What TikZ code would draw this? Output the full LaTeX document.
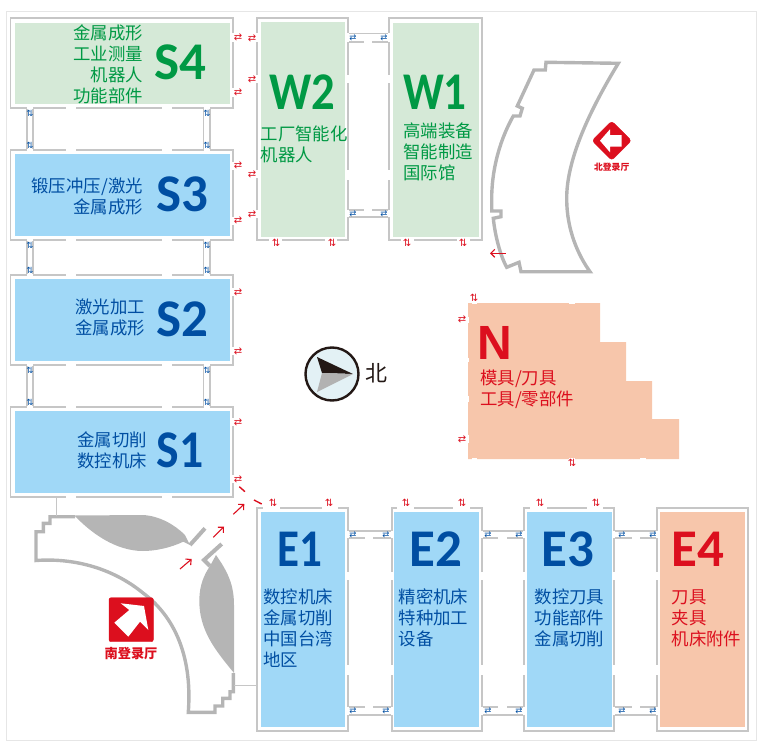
\documentclass[tikz,border=0pt]{standalone}
\usepackage{fontspec}
\usetikzlibrary{arrows.meta}
\setmainfont{Noto Sans CJK SC}
\newfontfamily\titlefont{Carlito}
\newfontfamily\nfont{Liberation Sans}
\newfontfamily\symfont{DejaVu Sans}
\definecolor{wallgray}{HTML}{C6C6C6}
\definecolor{lobbygray}{HTML}{B5B5B5}
\definecolor{framegray}{HTML}{E6E6E6}
\definecolor{hallgreen}{HTML}{D5E9D7}
\definecolor{hallblue}{HTML}{A0D8F7}
\definecolor{hallsalmon}{HTML}{F7C6AB}
\definecolor{textgreen}{HTML}{009944}
\definecolor{textblue}{HTML}{004EA2}
\definecolor{textred}{HTML}{DC0F1E}
\definecolor{compassblue}{HTML}{E3F1F5}
\definecolor{compassdark}{HTML}{231815}
\tikzstyle{wall}=[draw=wallgray, line width=1.2pt, inner sep=0pt, outer sep=0pt, fill=white]
\tikzstyle{room}=[inner sep=0pt, outer sep=0pt]
\tikzstyle{cwall}=[draw=wallgray, line width=1.2pt]
\tikzstyle{doorgap}=[draw=white, line width=2pt]
\tikzstyle{lobby}=[draw=lobbygray, line width=3.4pt, line join=miter]
\tikzstyle{title}=[inner sep=0pt, font=\titlefont\fontsize{53}{53}\selectfont\bfseries]
\tikzstyle{info}=[inner sep=0pt, font=\fontsize{17.4}{21}\selectfont]
\tikzstyle{rswap}=[inner sep=0pt, text=textred, font=\symfont\fontsize{10}{10}\selectfont]
\tikzstyle{bswap}=[inner sep=0pt, text=textblue, font=\symfont\fontsize{8.5}{8.5}\selectfont]
\tikzstyle{way}=[draw=textred, line width=1.1pt, -{Straight Barb[length=4pt,width=8pt]}]
\begin{document}
\begin{tikzpicture}[x=1pt, y=-1pt]
	\useasboundingbox (0,0) rectangle (777,752);
	%The frame
	\draw[framegray, line width=1pt] (6.5,11.5) rectangle (756.5,740.5);

	%The corridors, south wing
	\draw[cwall] (27,108) -- (27,150) (33,108) -- (33,150) (203.5,108) -- (203.5,150) (210,108) -- (210,150);
	\draw[cwall] (27,240) -- (27,275) (33,240) -- (33,275) (203.5,240) -- (203.5,275) (210,240) -- (210,275);
	\draw[cwall] (27,365) -- (27,407) (33,365) -- (33,407) (203.5,365) -- (203.5,407) (210,365) -- (210,407);

	%The corridors, west and east wings
	\draw[cwall] (348,33.5) -- (389,33.5) (348,42) -- (389,42) (348,210) -- (389,210) (348,217) -- (389,217);
	\draw[cwall] (348,531) -- (392,531) (348,538) -- (392,538) (348,707) -- (392,707) (348,715) -- (392,715);
	\draw[cwall] (482,531) -- (524,531) (482,538) -- (524,538) (482,707) -- (524,707) (482,715) -- (524,715);
	\draw[cwall] (614,531) -- (657,531) (614,538) -- (657,538) (614,707) -- (657,707) (614,715) -- (657,715);

	%The hall walls
	\draw (121.75,63) node[wall, minimum width=222.5pt, minimum height=90pt] (w-s4) {};
	\draw (121.75,195) node[wall, minimum width=222.5pt, minimum height=90pt] (w-s3) {};
	\draw (121.75,320) node[wall, minimum width=222.5pt, minimum height=90pt] (w-s2) {};
	\draw (121.75,452) node[wall, minimum width=222.5pt, minimum height=90pt] (w-s1) {};
	\draw (302.5,129) node[wall, minimum width=91pt, minimum height=222pt] (w-w2) {};
	\draw (435.5,129) node[wall, minimum width=93pt, minimum height=222pt] (w-w1) {};
	\draw (302.5,619.5) node[wall, minimum width=91pt, minimum height=223pt] (w-e1) {};
	\draw (437,619.5) node[wall, minimum width=90pt, minimum height=223pt] (w-e2) {};
	\draw (569,619.5) node[wall, minimum width=90pt, minimum height=223pt] (w-e3) {};
	\draw (702.5,619.5) node[wall, minimum width=91pt, minimum height=223pt] (w-e4) {};

	%The openings in the walls
	\draw[doorgap] (27,108) -- (33,108) (27,150) -- (33,150) (203.5,108) -- (210,108) (203.5,150) -- (210,150)
		(27,240) -- (33,240) (27,275) -- (33,275) (203.5,240) -- (210,240) (203.5,275) -- (210,275)
		(27,365) -- (33,365) (27,407) -- (33,407) (203.5,365) -- (210,365) (203.5,407) -- (210,407);
	\draw[doorgap] (66,108) -- (76,108) (162,108) -- (172,108) (66,150) -- (76,150) (162,150) -- (172,150)
		(66,240) -- (76,240) (162,240) -- (172,240) (66,275) -- (76,275) (162,275) -- (172,275)
		(66,365) -- (76,365) (162,365) -- (172,365) (66,407) -- (76,407) (162,407) -- (172,407)
		(66,497) -- (76,497) (162,497) -- (172,497);
	\draw[doorgap] (233,33) -- (233,42) (233,88) -- (233,97) (233,162) -- (233,170) (233,217) -- (233,225)
		(233,288) -- (233,296) (233,347) -- (233,355) (233,418) -- (233,426) (233,475) -- (233,483);
	\draw[doorgap] (257,33) -- (257,42) (257,75) -- (257,83) (257,170) -- (257,178) (257,210) -- (257,218)
		(269,240) -- (282,240) (325,240) -- (337,240) (401,240) -- (414,240) (457,240) -- (470,240);
	\draw[doorgap] (348,33.5) -- (348,42) (348,75) -- (348,83) (348,170) -- (348,180) (348,210) -- (348,217)
		(389,33.5) -- (389,42) (389,75) -- (389,83) (389,170) -- (389,180) (389,210) -- (389,217)
		(364,42) -- (372,42) (364,210) -- (372,210);
	\draw[doorgap] (263,508) -- (280,508) (322,508) -- (338,508) (397,508) -- (414,508) (453,508) -- (470,508)
		(530,508) -- (547,508) (587,508) -- (603,508);
	\draw[doorgap] (348,531) -- (348,538) (392,531) -- (392,538) (482,531) -- (482,538) (524,531) -- (524,538)
		(614,531) -- (614,538) (657,531) -- (657,538) (348,707) -- (348,715) (392,707) -- (392,715)
		(482,707) -- (482,715) (524,707) -- (524,715) (614,707) -- (614,715) (657,707) -- (657,715);
	\draw[doorgap] (348,572) -- (348,580) (392,572) -- (392,580) (482,572) -- (482,580) (524,572) -- (524,580)
		(614,572) -- (614,580) (657,572) -- (657,580) (348,665) -- (348,675) (392,665) -- (392,675)
		(482,665) -- (482,675) (524,665) -- (524,675) (614,665) -- (614,675) (657,665) -- (657,675);
	\draw[doorgap] (365,538) -- (373,538) (498,538) -- (507,538) (632,538) -- (640,538)
		(365,707) -- (373,707) (498,707) -- (507,707) (632,707) -- (640,707);

	%The halls
	\draw (122.5,63.5) node[room, fill=hallgreen, minimum width=215pt, minimum height=81pt] (s4) {};
	\draw (122.5,195) node[room, fill=hallblue, minimum width=215pt, minimum height=82pt] (s3) {};
	\draw (122.5,320) node[room, fill=hallblue, minimum width=215pt, minimum height=82pt] (s2) {};
	\draw (122.5,452) node[room, fill=hallblue, minimum width=215pt, minimum height=82pt] (s1) {};
	\draw (302.75,129.75) node[room, fill=hallgreen, minimum width=83.5pt, minimum height=214.5pt] (w2) {};
	\draw (436,130) node[room, fill=hallgreen, minimum width=86pt, minimum height=214pt] (w1) {};
	\draw (302.75,619.5) node[room, fill=hallblue, minimum width=83.5pt, minimum height=215pt] (e1) {};
	\draw (436.5,619.5) node[room, fill=hallblue, minimum width=85pt, minimum height=215pt] (e2) {};
	\draw (569.5,619.5) node[room, fill=hallblue, minimum width=85pt, minimum height=215pt] (e3) {};
	\draw (702.5,619.5) node[room, fill=hallsalmon, minimum width=85pt, minimum height=215pt] (e4) {};

	%The hall N
	\fill[hallsalmon] (468,303) -- (600,303) -- (600,342) -- (626,342) -- (626,381) -- (652,381) -- (652,419) -- (679,419) -- (679,459) -- (468,459) -- cycle;
	\draw[doorgap] (472,303) -- (477,303) (569,303) -- (575,303) (468,317) -- (468,323) (468,358) -- (468,362)
		(468,396) -- (468,402) (468,435) -- (468,443) (472,459) -- (477,459) (569,459) -- (575,459) (640,459) -- (646,459);

	%The titles
	\draw (180,62) node[title, text=textgreen] (t-s4) {S4};
	\draw (182,194) node[title, text=textblue] (t-s3) {S3};
	\draw (182,319) node[title, text=textblue] (t-s2) {S2};
	\draw (180,450) node[title, text=textblue, xscale=.9] (t-s1) {S1};
	\draw (302,92.5) node[title, text=textgreen, xscale=.88] (t-w2) {W2};
	\draw (435,92.5) node[title, text=textgreen, xscale=.85] (t-w1) {W1};
	\draw (300,549) node[title, text=textblue, xscale=.85] (t-e1) {E1};
	\draw (436,549) node[title, text=textblue] (t-e2) {E2};
	\draw (568,549) node[title, text=textblue] (t-e3) {E3};
	\draw (697.5,549) node[title, text=textred] (t-e4) {E4};
	\draw (495,343) node[inner sep=0pt, text=textred, font=\nfont\fontsize{48}{48}\selectfont\bfseries] (t-n) {N};

	%The exhibits
	\draw (143,64) node[info, text=textgreen, anchor=east, align=right] (i-s4) {金属成形\\工业测量\\机器人\\功能部件};
	\draw (143,196) node[info, text=textblue, anchor=east, align=right] (i-s3) {锻压冲压/激光\\金属成形};
	\draw (145,317) node[info, text=textblue, anchor=east, align=right] (i-s2) {激光加工\\金属成形};
	\draw (147,450.5) node[info, text=textblue, anchor=east, align=right] (i-s1) {金属切削\\数控机床};
	\draw (260.5,144) node[info, text=textgreen, anchor=west, align=left] (i-w2) {工厂智能化\\机器人};
	\draw (403,152) node[info, text=textgreen, anchor=west, align=left] (i-w1) {高端装备\\智能制造\\国际馆};
	\draw (263,628.5) node[info, text=textblue, anchor=west, align=left] (i-e1) {数控机床\\金属切削\\中国台湾\\地区};
	\draw (398.5,618) node[info, text=textblue, anchor=west, align=left] (i-e2) {精密机床\\特种加工\\设备};
	\draw (534.5,618) node[info, text=textblue, anchor=west, align=left] (i-e3) {数控刀具\\功能部件\\金属切削};
	\draw (671.5,618) node[info, text=textred, anchor=west, align=left] (i-e4) {刀具\\夹具\\机床附件};
	\draw (480,389.5) node[info, text=textred, anchor=west, align=left] (i-n) {模具/刀具\\工具/零部件};

	%The north lobby
	\draw[lobby] (546,62.3) -- (618.3,63.3) .. controls (590,110) and (566,160) .. (566.7,200) .. controls (567,230) and (578,255) .. (590,271.7)
		-- (521,271.7) -- (519,262.3) -- (506.7,267.3) .. controls (500,255) and (495,235) .. (493.3,218.3) -- (501,216.7) -- (501,211) -- (491.7,211)
		-- (491.7,196.7) .. controls (492,175) and (497,145) .. (513.3,116) -- (520,116) -- (522.3,108.3) -- (517.3,106) -- (534,70) -- (545.3,70) -- cycle;
	\draw[rounded corners=3pt, fill=textred, draw=textred] (611.7,121) -- (631.5,140.7) -- (611.7,160.4) -- (592,140.7) -- cycle;
	\fill[white] (600,140.7) -- (610,129.3) -- (610,135) -- (621.7,135) -- (621.7,146.7) -- (610,146.7) -- (610,152.3) -- cycle;
	\draw (611.7,167.3) node[inner sep=0pt, text=textred, font=\fontsize{8.8}{8.8}\selectfont\bfseries] (l-north) {北登录厅};
	\draw[way] (505.7,253.3) -- (490,253.3);

	%The south lobby
	\fill[lobbygray] (75,515.5) -- (143,515) .. controls (160,516) and (175,525) .. (185,535) -- (190,545) -- (183.3,541.7)
		.. controls (170,548) and (155,551) .. (143,551) .. controls (115,551) and (90,532) .. (75,516) -- cycle;
	\fill[lobbygray] (216,555) .. controls (228,572) and (234,585) .. (234,605) -- (234,673) .. controls (215,650) and (199,630) .. (199.3,600)
		.. controls (199.5,585) and (204,575) .. (210,566) -- cycle;
	\draw[lobby] (75,516.7) -- (50,516.7) -- (50,523.3) -- (43.3,523.3) -- (43.3,531.7) -- (36,531.7) -- (36,560.5)
		.. controls (70,558) and (110,566) .. (143,593) .. controls (170,613) and (193,650) .. (188.3,712.3)
		-- (215,712.3) -- (215,706) -- (222.7,706) -- (222.7,698.3) -- (230,698.3) -- (230,691.7) -- (233.3,691.7) -- (233.3,673);
	\draw[lobby, line width=4pt] (190,545) -- (205,528.3);
	\draw[lobby, line width=4pt] (210,566) -- (204,560) -- (221.7,544);
	\draw[rounded corners=2pt, fill=textred, draw=textred] (109,597.7) rectangle (153.3,641.7);
	\fill[white] (120.7,603.3) -- (144,606) -- (148.3,630) -- (140,621.7) -- (128.3,636.7) -- (114.3,622.7) -- (129.3,610) -- cycle;
	\draw (131,653.7) node[inner sep=0pt, text=textred, font=\fontsize{13.2}{13.2}\selectfont\bfseries] (l-south) {南登录厅};

	%The links from the south lobby
	\coordinate (g-s1) at (56,516);
	\coordinate (g-e1) at (234,685);
	\draw[wallgray, line width=1pt] (g-s1 |- w-s1.south) -- (g-s1);
	\draw[wallgray, line width=1pt] (g-e1 -| w-e1.west) -- (g-e1);

	%The way in
	\draw[way] (180,569) -- (191.7,559);
	\draw[way] (213.3,537.3) -- (224,526.7);
	\draw[way] (233.3,514.3) -- (244.3,504);
	\draw[textred, line width=1.4pt] (239.3,486.7) -- (245,491.7);
	\draw[textred, line width=1.4pt] (254,500) -- (261.7,504);

	%The compass
	\draw (332,374) node[circle, draw=compassdark, line width=2.4pt, fill=compassblue, minimum size=53pt, inner sep=0pt] (compass) {};
	\fill[compassdark] (353,374) -- (317,357) -- (322,373) -- cycle;
	\fill[black!30] (353,374) -- (317,392) -- (322,373) -- cycle;
	\draw (376,373) node[inner sep=0pt, text=compassdark, font=\fontsize{22}{22}\selectfont] (l-bei) {北};

	%The red swaps, south wing
	\draw (238,37) node[rswap] (r1) {⇄};
	\draw (238,92) node[rswap] (r2) {⇄};
	\draw (238,165) node[rswap] (r3) {⇄};
	\draw (238,220) node[rswap] (r4) {⇄};
	\draw (238,292) node[rswap] (r5) {⇄};
	\draw (238,351) node[rswap] (r6) {⇄};
	\draw (238,422) node[rswap] (r7) {⇄};
	\draw (238,479) node[rswap] (r8) {⇄};

	%The red swaps, west wing
	\draw (252,38) node[rswap] (r9) {⇄};
	\draw (252,79) node[rswap] (r10) {⇄};
	\draw (252,174) node[rswap] (r11) {⇄};
	\draw (252,214) node[rswap] (r12) {⇄};
	\draw (276,243) node[rswap] (r13) {⇅};
	\draw (332,243) node[rswap] (r14) {⇅};
	\draw (407,243) node[rswap] (r15) {⇅};
	\draw (463,243) node[rswap] (r16) {⇅};

	%The red swaps, hall N
	\draw (474,298) node[rswap] (r17) {⇅};
	\draw (462,319) node[rswap] (r18) {⇄};
	\draw (462,439) node[rswap] (r19) {⇄};
	\draw (572,463) node[rswap] (r20) {⇅};

	%The red swaps, east wing
	\draw (273,503) node[rswap] (r21) {⇅};
	\draw (329,503) node[rswap] (r22) {⇅};
	\draw (406,503) node[rswap] (r23) {⇅};
	\draw (462,503) node[rswap] (r24) {⇅};
	\draw (540,503) node[rswap] (r25) {⇅};
	\draw (596,503) node[rswap] (r26) {⇅};

	%The blue swaps, south wing
	\draw (30,113) node[bswap] (b1) {⇅};
	\draw (207,113) node[bswap] (b2) {⇅};
	\draw (30,145) node[bswap] (b3) {⇅};
	\draw (207,145) node[bswap] (b4) {⇅};
	\draw (30,245) node[bswap] (b5) {⇅};
	\draw (207,245) node[bswap] (b6) {⇅};
	\draw (30,270) node[bswap] (b7) {⇅};
	\draw (207,270) node[bswap] (b8) {⇅};
	\draw (30,370) node[bswap] (b9) {⇅};
	\draw (207,370) node[bswap] (b10) {⇅};
	\draw (30,402) node[bswap] (b11) {⇅};
	\draw (207,402) node[bswap] (b12) {⇅};

	%The blue swaps, west wing
	\draw (353,37.5) node[bswap] (b13) {⇄};
	\draw (384,37.5) node[bswap] (b14) {⇄};
	\draw (353,213.5) node[bswap] (b15) {⇄};
	\draw (384,213.5) node[bswap] (b16) {⇄};

	%The blue swaps, east wing
	\draw (353,535) node[bswap] (b17) {⇄};
	\draw (386,535) node[bswap] (b18) {⇄};
	\draw (488,535) node[bswap] (b19) {⇄};
	\draw (519,535) node[bswap] (b20) {⇄};
	\draw (622,535) node[bswap] (b21) {⇄};
	\draw (653,535) node[bswap] (b22) {⇄};
	\draw (353,711) node[bswap] (b23) {⇄};
	\draw (386,711) node[bswap] (b24) {⇄};
	\draw (488,711) node[bswap] (b25) {⇄};
	\draw (519,711) node[bswap] (b26) {⇄};
	\draw (622,711) node[bswap] (b27) {⇄};
	\draw (653,711) node[bswap] (b28) {⇄};
\end{tikzpicture}
\end{document}
